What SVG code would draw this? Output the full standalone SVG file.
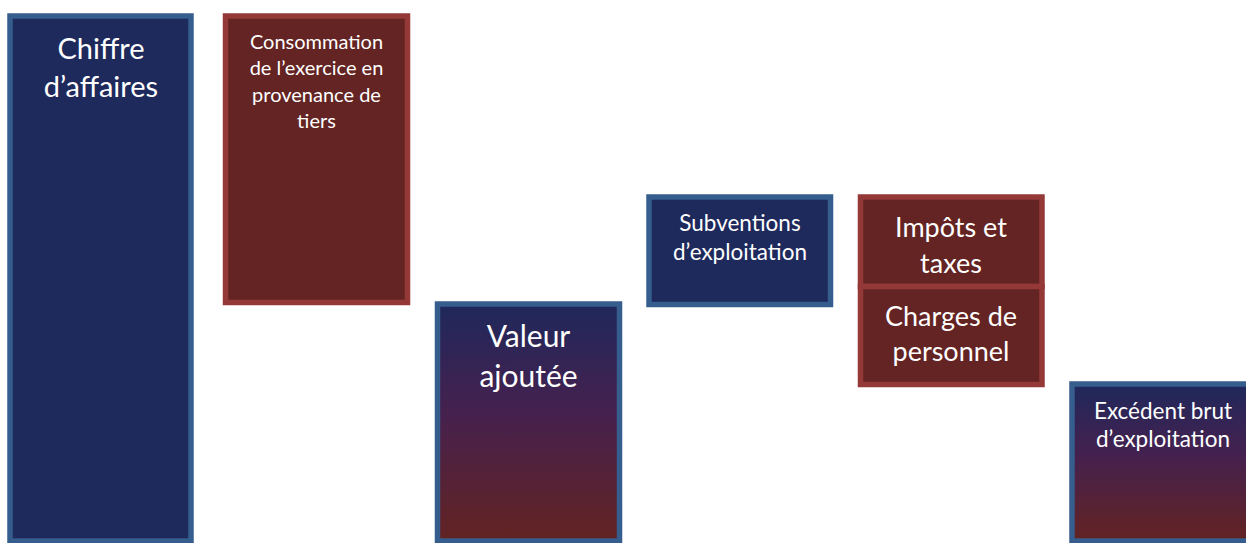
<svg xmlns="http://www.w3.org/2000/svg" width="1246" height="543" viewBox="0 0 1246 543">
<defs>
<linearGradient id="grad" x1="0" y1="0" x2="0" y2="1">
<stop offset="0" stop-color="#1F285B"/>
<stop offset="0.45" stop-color="#45214F"/>
<stop offset="1" stop-color="#632322"/>
</linearGradient>
</defs>
<style>
.blue{fill:#1E295C;stroke:#355D8D;stroke-width:5.5}
.red{fill:#632423;stroke:#943838;stroke-width:5.5}
.grad{fill:url(#grad);stroke:#355D8D;stroke-width:5.5}
text{font-family:Lato,"Open Sans",sans-serif;fill:#FFFFFF;text-anchor:middle}
</style>
<rect width="1246" height="543" fill="#FFFFFF"/>
<g id="chiffre">
<rect class="blue" x="10" y="16" width="181" height="525"/>
<text font-size="29" x="101" y="59">Chiffre</text>
<text font-size="29" x="101" y="97">d’affaires</text>
</g>
<g id="consommation">
<rect class="red" x="225.5" y="16" width="182" height="286.5"/>
<text font-size="20" x="316.5" y="49">Consommation</text>
<text font-size="20" x="316.5" y="75">de l’exercice en</text>
<text font-size="20" x="316.5" y="102">provenance de</text>
<text font-size="20" x="316.5" y="128">tiers</text>
</g>
<g id="valeur">
<rect class="grad" x="437.5" y="304" width="182" height="237"/>
<text font-size="30" x="528.5" y="347">Valeur</text>
<text font-size="30" x="528.5" y="387">ajoutée</text>
</g>
<g id="subventions">
<rect class="blue" x="649" y="197" width="181.5" height="107.5"/>
<text font-size="22.5" x="740" y="231">Subventions</text>
<text font-size="22.5" x="740" y="260">d’exploitation</text>
</g>
<g id="impots">
<rect class="red" x="860.5" y="197" width="181.5" height="89.5"/>
<text font-size="27" x="951" y="237">Impôts et</text>
<text font-size="27" x="951" y="273">taxes</text>
</g>
<g id="charges">
<rect class="red" x="860.5" y="286.5" width="181.5" height="98"/>
<text font-size="27" x="951" y="326">Charges de</text>
<text font-size="27" x="951" y="361">personnel</text>
</g>
<g id="excedent">
<rect class="grad" x="1072" y="384" width="182" height="157"/>
<text font-size="22.5" x="1163" y="419">Excédent brut</text>
<text font-size="22.5" x="1163" y="447">d’exploitation</text>
</g>
<g id="connectors"></g>
</svg>
